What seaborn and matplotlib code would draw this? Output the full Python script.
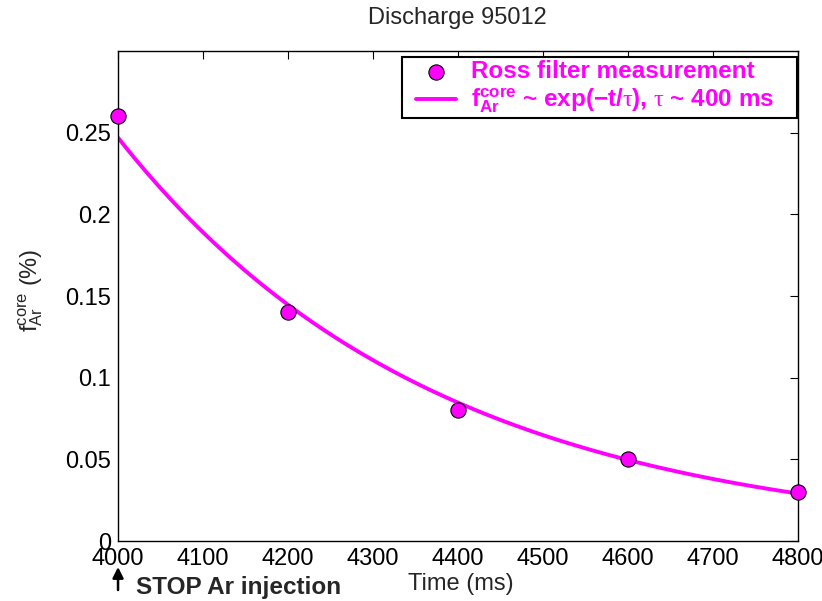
import numpy as np
import pandas as pd
import matplotlib
matplotlib.use("Agg")
import matplotlib.pyplot as plt
from matplotlib.patches import Rectangle
import seaborn as sns

# Ross filter measurements, discharge 95012
time_ms = [4000, 4200, 4400, 4600, 4800]
f_ar_core = [0.26, 0.14, 0.08, 0.05, 0.03]

x_ticks = [4000, 4100, 4200, 4300, 4400, 4500, 4600, 4700, 4800]
y_ticks = [0, 0.05, 0.1, 0.15, 0.2, 0.25]
y_tick_labels = ["0", "0.05", "0.1", "0.15", "0.2", "0.25"]

sns.set_style("white")
plt.rcParams["font.family"] = ["Liberation Sans", "DejaVu Sans"]
plt.rcParams["mathtext.fontset"] = "custom"
plt.rcParams["mathtext.rm"] = "Liberation Sans"
plt.rcParams["mathtext.bf"] = "Liberation Sans:bold"
plt.rcParams["mathtext.it"] = "Liberation Serif"

FS = 17

meas = pd.DataFrame({"t": time_ms, "f": f_ar_core})

# exponential decay fitted to the measurements (least squares on log f)
slope, intercept = np.polyfit(meas["t"] - 4400, np.log(meas["f"]), 1)
t_fit = np.linspace(4000, 4800, 200)
fit = pd.DataFrame({"t": t_fit, "f": np.exp(intercept + slope * (t_fit - 4400))})

fig = plt.figure(figsize=(8.22, 6.01), dpi=100)
ax = fig.add_axes([0.1436, 0.0998, 0.8272, 0.8152])

mag = "#ff00ff"
sns.scatterplot(data=meas, x="t", y="f", ax=ax, s=120, color=mag,
                edgecolor="black", linewidth=0.8, zorder=3,
                label="Ross filter measurement", clip_on=False)
sns.lineplot(data=fit, x="t", y="f", ax=ax, color=mag, linewidth=2.8,
             zorder=2,
             label=r"$\mathbf{f}_{\mathbf{Ar}}^{\mathbf{core}}$ ~ exp(−t/$\tau$), $\tau$ ~ 400 ms")

ax.set_xlim(4000, 4800)
ax.set_ylim(0, 0.3)
ax.set_xticks(x_ticks)
ax.set_yticks(y_ticks)
ax.set_yticklabels(y_tick_labels)
ax.tick_params(direction="in", length=6, width=0.8, top=True, right=True,
               labelsize=FS, colors="black")
ax.tick_params(axis="x", pad=5)
ax.tick_params(axis="y", pad=5)
for sp in ax.spines.values():
    sp.set_color("black")
    sp.set_linewidth(1.0)

ax.set_xlabel("")
ax.set_ylabel(r"f$_{\rm Ar}^{\rm core}$ (%)", fontsize=FS)
ax.yaxis.set_label_coords(-0.108, 0.512)

fig.text(0.557, 0.970, "Discharge 95012", fontsize=FS, ha="center", va="center")
fig.text(0.560, 0.028, "Time (ms)", fontsize=FS, ha="center", va="center")
fig.text(0.166, 0.023, "STOP Ar injection", fontsize=17.5, fontweight="bold",
         ha="left", va="center")
ax.annotate("", xy=(0.0, -0.053), xytext=(0.0, -0.100),
            xycoords="axes fraction", textcoords="axes fraction",
            annotation_clip=False,
            arrowprops=dict(arrowstyle="-|>", color="black", lw=1.8,
                            mutation_scale=16, shrinkA=0, shrinkB=0))

# legend box drawn as a separate frame so its padding can be set freely
box = Rectangle((0.4176, 0.8633), 0.5809, 0.1245, transform=ax.transAxes,
                facecolor="white", edgecolor="black", linewidth=1.5,
                zorder=4)
ax.add_patch(box)
leg = ax.legend(loc="upper left", bbox_to_anchor=(0.4382, 0.9816),
                borderaxespad=0, frameon=False,
                labelcolor=mag, prop={"weight": "bold", "size": 17.5},
                borderpad=0, labelspacing=0.17, handlelength=1.65,
                handletextpad=0.6)
leg.set_zorder(5)

fig.savefig("out.png", dpi=100, facecolor="white")
